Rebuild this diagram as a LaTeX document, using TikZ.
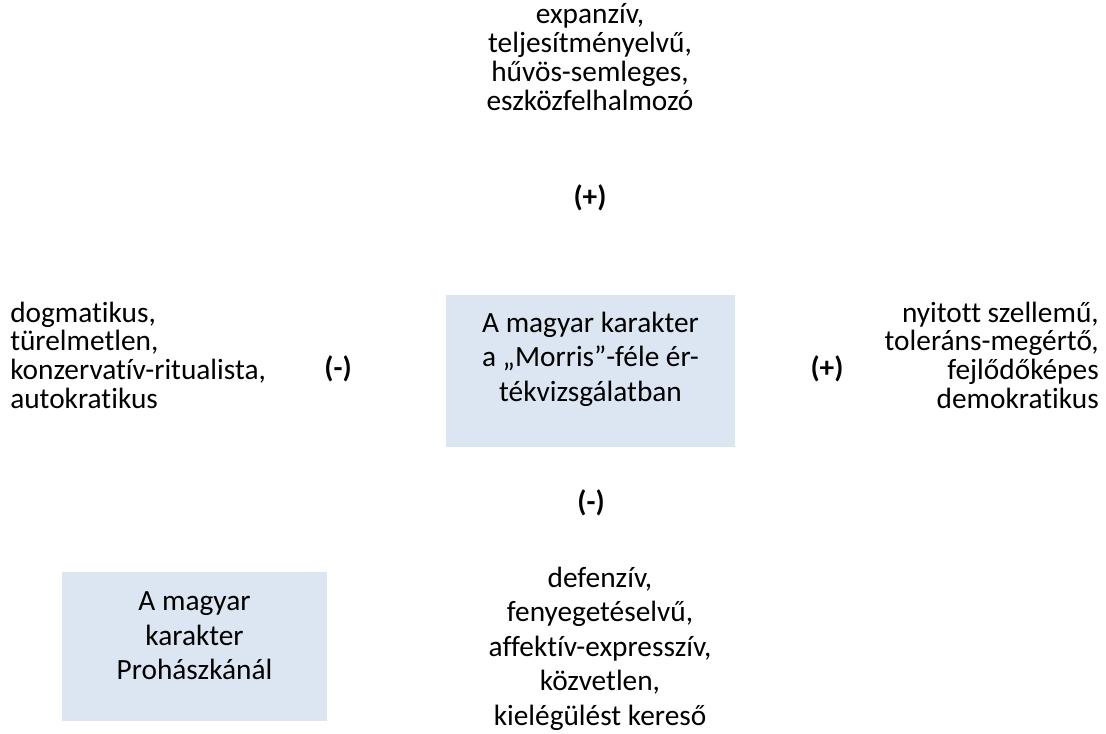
\documentclass[tikz,border=0pt]{standalone}
\usepackage{fontspec}
\setmainfont{Carlito}[Ligatures={NoCommon}]
\definecolor{boxfill}{RGB}{220,230,242}
\begin{document}
\begin{tikzpicture}[x=0.75pt,y=-0.75pt,
  txt/.style={font=\fontsize{22}{21.6}\selectfont, inner sep=0pt, align=center},
  boxtxt/.style={font=\fontsize{22}{25.9}\selectfont, inner sep=0pt, align=center},
  sign/.style={font=\fontsize{22}{21.6}\selectfont\bfseries, inner sep=0pt},
  panel/.style={fill=boxfill, draw=none}]
\useasboundingbox (0,0) rectangle (1106,733);
% center box
\fill[panel] (446,295) rectangle (735,447);
\node[boxtxt, anchor=north] (center) at (590.5,311.5) {A magyar karakter\\a „Morris”-féle ér-\\tékvizsgálatban};
% bottom-left box
\fill[panel] (62,572) rectangle (327,721);
\node[boxtxt, anchor=north] (proh) at (194.5,591.5) {A magyar\\karakter\\Prohászkánál};
% top text
\node[txt, anchor=north] (top) at (590,3.5) {expanzív,\\teljesítményelvű,\\hűvös-semleges,\\eszközfelhalmozó};
\node[sign] (topsign) at (590,198) {(+)};
% left text
\node[txt, align=left, anchor=north west] (left) at (10,301.5) {dogmatikus,\\türelmetlen,\\konzervatív-ritualista,\\autokratikus};
\node[sign] (leftsign) at (338,369) {(-)};
% right text
\node[txt, align=right, anchor=north east] (right) at (1099,301.5) {nyitott szellemű,\\toleráns-megértő,\\fejlődőképes\\demokratikus};
\node[sign] (rightsign) at (827,369) {(+)};
% bottom
\node[sign] (botsign) at (591,503) {(-)};
\node[boxtxt, anchor=north] (bottom) at (600,566.5) {defenzív,\\fenyegetéselvű,\\affektív-expresszív,\\közvetlen,\\kielégülést kereső};
\end{tikzpicture}
\end{document}
